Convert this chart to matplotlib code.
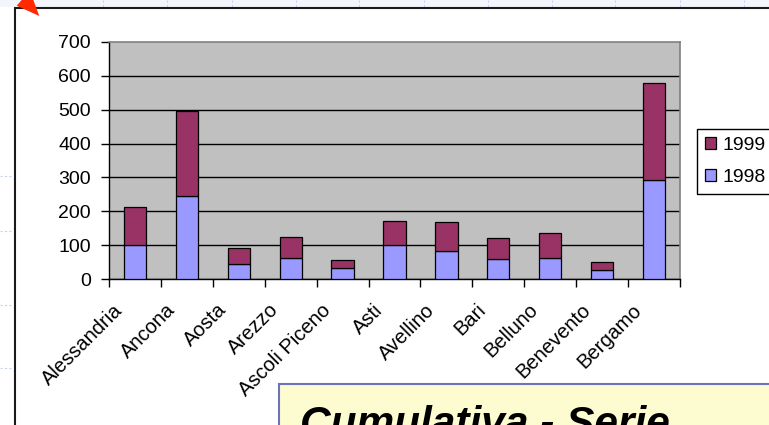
import numpy as np
import matplotlib
matplotlib.use("Agg")
import matplotlib.pyplot as plt
from matplotlib.patches import Rectangle, Polygon, Patch
from matplotlib.lines import Line2D
from matplotlib.transforms import ScaledTranslation

plt.rcParams['font.family'] = ['Liberation Sans', 'DejaVu Sans']

# Data
cities = ["Alessandria", "Ancona", "Aosta", "Arezzo", "Ascoli Piceno", "Asti",
          "Avellino", "Bari", "Belluno", "Benevento", "Bergamo"]
v1998 = [101, 245, 46, 64, 32, 101, 84, 61, 64, 27, 294]
v1999 = [113, 251, 47, 62, 25, 72, 84, 60, 72, 25, 285]
yticks = [0, 100, 200, 300, 400, 500, 600, 700]
series_labels = ["1999", "1998"]
title_text = "Cumulativa - Serie"

C1998 = "#9999FF"
C1999 = "#993366"

W, H = 769, 425
fig = plt.figure(figsize=(W / 100, H / 100), dpi=100)
fig.patch.set_facecolor("white")


def fx(px):
    return px / W


def fy(py):
    return 1 - py / H


# --- slide background decorations ---
fig.add_artist(Rectangle((0, fy(7)), 1, fy(0) - fy(7), transform=fig.transFigure,
                         facecolor="#F3F5FD", edgecolor="none", zorder=-5))
for xp in [103, 167, 232, 296, 359, 424, 488, 552, 615, 680, 744]:
    fig.add_artist(Line2D([fx(xp), fx(xp)], [fy(0), fy(7)], transform=fig.transFigure,
                          color="#C9D1F2", lw=0.8, ls=(0, (2, 2)), zorder=-4))
for yp in [176, 231, 305, 368]:
    fig.add_artist(Line2D([fx(0), fx(13)], [fy(yp), fy(yp)], transform=fig.transFigure,
                          color="#C9D1F2", lw=0.8, ls=(0, (2, 2)), zorder=-4))

# outer frame of the chart object
fig.add_artist(Rectangle((fx(15), -0.2), 1.3, fy(8) + 0.2, transform=fig.transFigure,
                         facecolor="none", edgecolor="#1a1a1a", lw=1.5, zorder=-3))

# red arrow head in the corner
fig.add_artist(Polygon([(fx(16.7), fy(5.7)), (fx(21.7), fy(0)), (fx(33.3), fy(0)),
                        (fx(39.3), fy(16))], closed=True, transform=fig.transFigure,
                       facecolor="#FF2A00", edgecolor="none", zorder=10))

# --- chart ---
ax = fig.add_axes([fx(109), fy(279.3), fx(680) - fx(109), fy(41.7) - fy(279.3)])
ax.set_facecolor("#C0C0C0")
x = np.arange(len(cities))
ax.bar(x, v1998, width=0.43, color=C1998, edgecolor="black", lw=0.9, zorder=3)
ax.bar(x, v1999, bottom=v1998, width=0.43, color=C1999, edgecolor="black", lw=0.9, zorder=3)
ax.set_xlim(-0.5, len(cities) - 0.5)
ax.set_ylim(yticks[0], yticks[-1])
ax.set_yticks(yticks)
ax.set_yticklabels([str(v) for v in yticks], fontsize=14)
ax.yaxis.grid(True, color="black", lw=1.0)
ax.get_ygridlines()[-1].set_visible(False)
ax.set_axisbelow(True)

for s in ["left", "bottom"]:
    ax.spines[s].set_color("black")
    ax.spines[s].set_linewidth(1.0)
for s in ["top", "right"]:
    ax.spines[s].set_color("#808080")
    ax.spines[s].set_linewidth(1.2)

ax.set_xticks(np.arange(-0.5, len(cities), 1))
ax.set_xticks(x, minor=True)
ax.set_xticklabels([], minor=False)
ax.set_xticklabels(cities, minor=True, rotation=45, ha="right", va="center",
                   rotation_mode="anchor", fontsize=14.5)
ax.tick_params(axis="x", which="major", direction="out", length=6, width=1.0, color="black")
ax.tick_params(axis="x", which="minor", length=0, pad=20)
ax.tick_params(axis="y", direction="out", length=6, width=1.0, pad=7, color="black")

shift = ScaledTranslation(-15 / 100, 0, fig.dpi_scale_trans)
for lab in ax.get_xticklabels(minor=True):
    lab.set_transform(lab.get_transform() + shift)

handles = [Patch(facecolor=C1999, edgecolor="black", lw=0.9),
           Patch(facecolor=C1998, edgecolor="black", lw=0.9)]
leg = ax.legend(handles, series_labels, loc="upper left",
                bbox_to_anchor=(fx(697), fy(128.5)), bbox_transform=fig.transFigure,
                frameon=True, fancybox=False, framealpha=1, edgecolor="black",
                fontsize=14, handlelength=0.55, handleheight=0.55, handletextpad=0.35,
                borderpad=0.42, labelspacing=0.8, borderaxespad=0)
leg.get_frame().set_linewidth(1.0)

# --- caption box ---
fig.add_artist(Rectangle((fx(279), -0.2), 1.0, fy(384) + 0.2, transform=fig.transFigure,
                         facecolor="#FDFBD0", edgecolor="#6B74B8", lw=1.5, zorder=2))
fig.text(fx(300), fy(436), title_text, fontsize=30.5, fontweight="bold", fontstyle="italic",
         ha="left", va="baseline", color="black", zorder=3)

fig.savefig("out.png", dpi=100)
